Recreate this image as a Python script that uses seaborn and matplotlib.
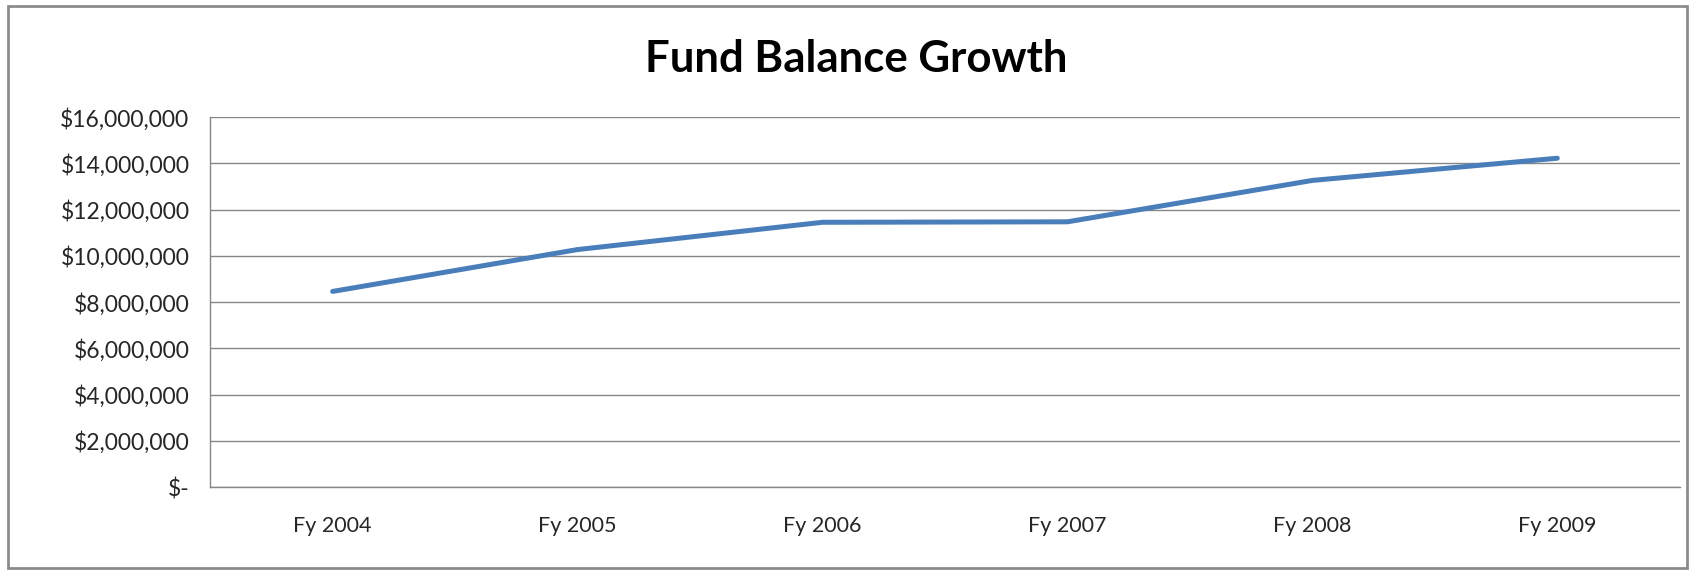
import matplotlib
matplotlib.use("Agg")
import matplotlib.pyplot as plt
import seaborn as sns
import pandas as pd
from matplotlib.patches import Rectangle
from matplotlib.ticker import FuncFormatter, FixedLocator

# 数据
years = ["Fy 2004", "Fy 2005", "Fy 2006", "Fy 2007", "Fy 2008", "Fy 2009"]
balance = [8460000, 10270000, 11450000, 11470000, 13260000, 14220000]
y_ticks = [0, 2000000, 4000000, 6000000, 8000000, 10000000, 12000000, 14000000, 16000000]

df = pd.DataFrame({"year": years, "balance": balance})

sns.set_theme(style="white")
plt.rcParams["font.family"] = ["Lato", "DejaVu Sans"]

fig = plt.figure(figsize=(16.95, 5.71), dpi=100)
ax = fig.add_axes([0.124, 0.147, 0.867, 0.648])

sns.lineplot(data=df, x="year", y="balance", ax=ax, color="#4A7EBB",
             linewidth=3.6, solid_capstyle="round", sort=False)

grid_c = "#868686"
ax.set_ylim(0, 16000000)
ax.set_xlim(-0.5, len(years) - 0.5)
ax.set_yticks(y_ticks)
ax.yaxis.grid(True, color=grid_c, linewidth=1.0)
ax.set_axisbelow(True)


def money(v, pos):
    if v == 0:
        return "$-"
    return f"${v:,.0f}"


ax.yaxis.set_major_formatter(FuncFormatter(money))
ax.tick_params(axis="y", length=9, width=1, color=grid_c, pad=6,
               labelsize=16.5, labelcolor="#262626")
ax.tick_params(axis="x", which="major", length=0, pad=21,
               labelsize=15.5, labelcolor="#262626")
ax.xaxis.set_minor_locator(FixedLocator([i - 0.5 for i in range(len(years) + 1)]))
ax.tick_params(axis="x", which="minor", length=9, width=1, color=grid_c)

for side in ["top", "right"]:
    ax.spines[side].set_visible(False)
for side in ["left", "bottom"]:
    ax.spines[side].set_color(grid_c)
    ax.spines[side].set_linewidth(1.0)

ax.set_xlabel("")
ax.set_ylabel("")

fig.text(0.505, 0.897, "Fund Balance Growth", ha="center", va="center",
         fontsize=31.5, fontweight="bold", color="black")

# 图表外框
fig.patches.append(Rectangle((0.005, 0.006), 0.99, 0.984, transform=fig.transFigure,
                             fill=False, edgecolor="#8C8C8C", linewidth=2))

plt.savefig("out.png", dpi=100)
plt.close()
